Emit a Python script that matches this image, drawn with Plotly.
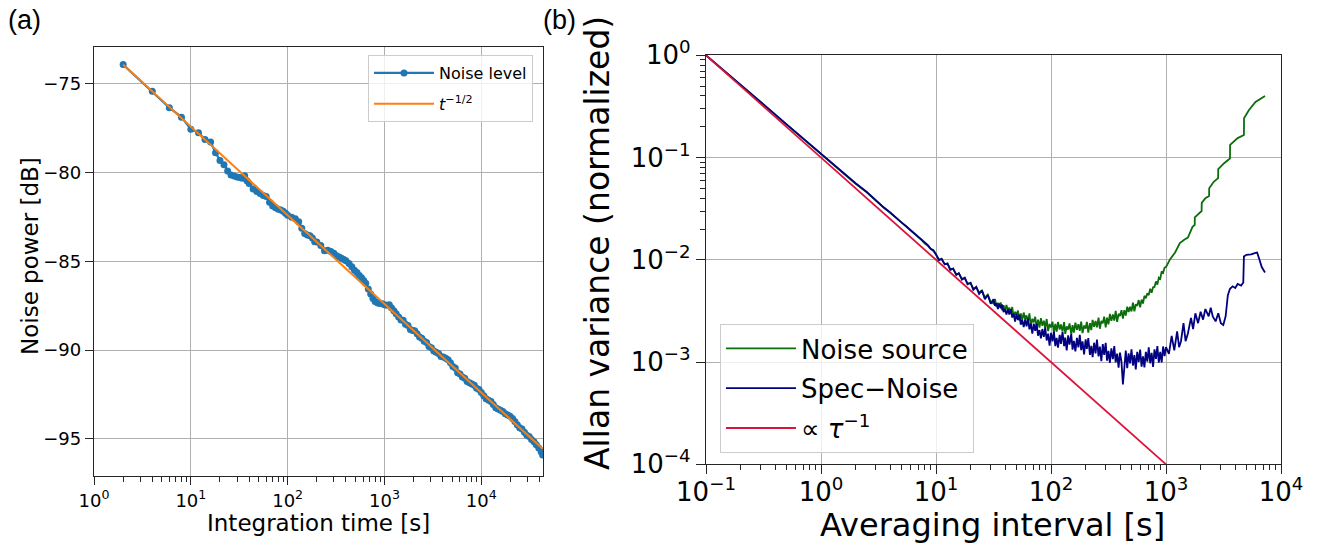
import plotly.graph_objects as go

# ---------------- panel (a) data ----------------
t_noise = [2, 4, 6, 8, 10, 12, 14, 16, 18, 20, 22, 24, 26, 28, 30, 32, 34, 36, 38, 40,
           44, 48, 52, 56, 60, 65, 70, 75, 80, 85, 90, 95, 100, 110, 120, 130, 140, 150,
           160, 170, 180, 190, 200, 220, 240, 260, 280, 300, 320, 340, 360, 380, 400,
           430, 460, 490, 520, 550, 580, 610, 640, 680, 720, 760, 800, 850, 900, 950,
           1000, 1060, 1120, 1180, 1250, 1320, 1400, 1480, 1560, 1650, 1750, 1850, 1950,
           2050, 2170, 2300, 2430, 2570, 2720, 2880, 3050, 3230, 3420, 3620, 3830, 4050,
           4290, 4540, 4800, 5080, 5380, 5690, 6020, 6370, 6740, 7130, 7550, 7990, 8460,
           8950, 9470, 10000, 10600, 11200, 11900, 12600, 13300, 14100, 14900, 15800,
           16700, 17700, 18700, 19800, 21000, 22200, 23500, 24900, 26300, 27900, 29500,
           31200, 33000, 35000, 37000, 39200, 41500, 43000]
noise_db = [-73.91, -75.41, -76.34, -76.87, -77.55, -77.75, -78.13, -78.27, -78.88, -79.31,
            -79.56, -79.90, -80.13, -80.19, -80.24, -80.28, -80.31, -80.18, -80.45, -80.61,
            -80.92, -81.06, -81.18, -81.29, -81.34, -81.67, -81.88, -81.98, -82.07, -82.10,
            -82.17, -82.29, -82.40, -82.51, -82.60, -82.77, -83.13, -83.43, -83.52, -83.55,
            -83.68, -83.89, -83.91, -84.11, -84.40, -84.38, -84.44, -84.54, -84.68, -84.76,
            -84.83, -84.90, -84.96, -85.12, -85.31, -85.50, -85.63, -85.80, -85.92, -86.08,
            -86.23, -86.56, -86.84, -87.10, -87.27, -87.35, -87.37, -87.39, -87.45, -87.48,
            -87.45, -87.61, -87.79, -87.95, -88.13, -88.30, -88.32, -88.54, -88.62, -88.84,
            -88.90, -88.91, -89.08, -89.26, -89.33, -89.50, -89.57, -89.80, -89.87, -90.05,
            -90.12, -90.19, -90.37, -90.39, -90.46, -90.54, -90.71, -90.93, -91.01, -91.28,
            -91.35, -91.52, -91.59, -91.77, -91.84, -91.91, -91.99, -92.16, -92.23, -92.40,
            -92.58, -92.75, -92.83, -92.90, -93.07, -93.25, -93.32, -93.39, -93.46, -93.59,
            -93.66, -93.73, -93.86, -94.03, -94.21, -94.38, -94.45, -94.63, -94.80, -94.87,
            -95.04, -95.17, -95.34, -95.52, -95.74, -95.92]
t_fit = [2, 43000]
fit_db = [-73.91, -95.57]

# ---------------- panel (b) data ----------------
tau_early = [0.1, 0.2, 0.3, 0.5, 0.7, 1.0, 1.5, 2.0, 2.5, 3.0, 3.5, 4.0, 4.5, 5.0, 5.5,
             6.0, 6.5, 7.0, 7.5, 8.0, 8.5, 9.0, 9.5]
spec_early = [1.0, 0.52, 0.348, 0.212, 0.153, 0.109, 0.074, 0.056, 0.046, 0.038, 0.0326,
              0.029, 0.0256, 0.0232, 0.0213, 0.0195, 0.0182, 0.0167, 0.0158, 0.0145,
              0.0139, 0.0128, 0.0124]
src_early = [1.0, 0.52, 0.347, 0.211, 0.152, 0.108, 0.0735, 0.0555, 0.0458, 0.0378,
             0.0325, 0.0288, 0.0255, 0.0230, 0.0212, 0.0194, 0.0180, 0.0166, 0.0156,
             0.0144, 0.0137, 0.0127, 0.0122]

# noisy middle part, values read as decades (log10 of the Allan variance)
tau_mid = [10, 10.6, 11.2, 11.9, 12.6, 13.3, 14.1, 15.0, 15.8, 16.8, 17.8, 18.8, 20.0,
           21.1, 22.4, 23.7, 25.1, 26.6, 28.2, 29.9,
           31.6, 32.6, 33.5, 34.5, 35.5, 36.5, 37.6, 38.7, 39.8, 41.0,
           42.2, 43.4, 44.7, 46.0, 47.3, 48.7, 50.1, 51.6, 53.1, 54.6,
           56.2, 57.9, 59.6, 61.3, 63.1, 64.9, 66.8, 68.8, 70.8, 72.9,
           75.0, 77.1, 79.4, 81.7, 84.1, 86.6, 89.1, 91.7, 94.4, 97.2,
           100, 103, 106, 109, 112, 115, 119, 122, 126, 130,
           133, 137, 141, 145, 150, 154, 158, 163, 168, 173,
           178, 183, 188, 194, 200, 205, 211, 218, 224, 230,
           237, 244, 251, 259, 266, 274, 282, 290, 299, 307,
           316, 325, 335, 345, 355, 365, 376, 387, 398, 410,
           422, 434, 447, 460, 473, 487, 501, 516, 531, 546,
           562, 579, 596, 613, 631, 649, 668, 688, 708, 729,
           750, 772, 794, 818, 841, 866, 891, 917, 944, 972]
spec_mid_log = [-1.945, -2.005, -1.99, -2.045, -2.035, -2.10, -2.085, -2.15, -2.13, -2.195,
                -2.175, -2.24, -2.225, -2.295, -2.265, -2.335, -2.30, -2.385, -2.345, -2.43,
                -2.385, -2.450, -2.424, -2.482, -2.429, -2.475, -2.439, -2.511, -2.482, -2.536,
                -2.484, -2.535, -2.483, -2.565, -2.527, -2.604, -2.530, -2.589, -2.536, -2.634,
                -2.589, -2.659, -2.583, -2.650, -2.575, -2.680, -2.626, -2.722, -2.624, -2.695,
                -2.626, -2.743, -2.687, -2.769, -2.677, -2.754, -2.662, -2.789, -2.723, -2.839,
                -2.714, -2.797, -2.702, -2.844, -2.764, -2.858, -2.735, -2.822, -2.705, -2.845,
                -2.761, -2.885, -2.739, -2.829, -2.726, -2.879, -2.792, -2.895, -2.764, -2.857,
                -2.735, -2.883, -2.797, -2.926, -2.777, -2.872, -2.766, -2.930, -2.841, -2.951,
                -2.811, -2.915, -2.780, -2.944, -2.848, -2.991, -2.825, -2.929, -2.813, -2.986,
                -2.890, -3.007, -2.866, -2.971, -2.845, -3.004, -2.918, -3.054, -2.907, -2.998,
                -3.220, -3.047, -2.888, -3.059, -2.916, -3.014, -2.875, -3.034, -2.933, -3.071,
                -2.900, -2.999, -2.878, -3.046, -2.945, -3.052, -2.900, -2.997, -2.855, -3.012,
                -2.910, -3.047, -2.875, -2.969, -2.843, -3.006, -2.900, -3.004, -2.848, -2.941]
src_mid_log = [-1.95, -1.995, -1.995, -2.04, -2.04, -2.09, -2.09, -2.14, -2.135, -2.185,
               -2.18, -2.23, -2.23, -2.28, -2.27, -2.32, -2.30, -2.37, -2.34, -2.41,
               -2.428, -2.383, -2.457, -2.422, -2.447, -2.418, -2.493, -2.444, -2.498, -2.441,
               -2.498, -2.467, -2.523, -2.462, -2.557, -2.509, -2.540, -2.496, -2.593, -2.524,
               -2.590, -2.516, -2.583, -2.544, -2.610, -2.525, -2.644, -2.577, -2.612, -2.557,
               -2.670, -2.585, -2.662, -2.570, -2.646, -2.595, -2.665, -2.579, -2.697, -2.628,
               -2.662, -2.605, -2.715, -2.628, -2.702, -2.609, -2.683, -2.632, -2.700, -2.610,
               -2.724, -2.652, -2.682, -2.622, -2.730, -2.640, -2.712, -2.615, -2.686, -2.630,
               -2.695, -2.604, -2.717, -2.643, -2.672, -2.608, -2.713, -2.619, -2.687, -2.587,
               -2.656, -2.598, -2.660, -2.565, -2.674, -2.597, -2.622, -2.557, -2.660, -2.565,
               -2.632, -2.530, -2.596, -2.535, -2.595, -2.499, -2.607, -2.528, -2.550, -2.493,
               -2.575, -2.493, -2.545, -2.458, -2.510, -2.458, -2.505, -2.420, -2.505, -2.435,
               -2.450, -2.394, -2.465, -2.390, -2.428, -2.352, -2.376, -2.327, -2.345, -2.283,
               -2.322, -2.269, -2.266, -2.212, -2.243, -2.174, -2.186, -2.114, -2.127, -2.076]

tau_src_late = [1000, 1090, 1200, 1320, 1450, 1550, 1700, 1778, 1780, 1950, 2040, 2045,
                2200, 2370, 2375, 2600, 2840, 2845, 3200, 3600, 3610, 4200, 4760, 4770,
                5250, 6000, 6760, 7260]
src_late = [0.0085, 0.0102, 0.0118, 0.0146, 0.0158, 0.0165, 0.0210, 0.022, 0.026, 0.029,
            0.030, 0.036, 0.040, 0.042, 0.050, 0.058, 0.063, 0.077, 0.088, 0.098, 0.133,
            0.155, 0.166, 0.242, 0.29, 0.35, 0.385, 0.40]

tau_spec_late = [1000, 1060, 1120, 1180, 1250, 1300, 1350, 1420, 1480, 1550, 1650, 1720,
                 1800, 1900, 2000, 2100, 2200, 2350, 2450, 2550, 2700, 2850, 3000, 3150,
                 3300, 3450, 3600, 3800, 4000, 4200, 4500, 4700, 4760, 5000, 5500, 6000,
                 6200, 6500, 6800, 7260]
spec_late = [0.0014, 0.0012, 0.0018, 0.0013, 0.0020, 0.0014, 0.0016, 0.0024, 0.0016,
             0.0019, 0.0027, 0.0021, 0.0030, 0.0024, 0.0031, 0.0026, 0.0033, 0.0028,
             0.0034, 0.0028, 0.0025, 0.0030, 0.0024, 0.0023, 0.0028, 0.0045, 0.0052,
             0.0055, 0.0053, 0.0058, 0.0056, 0.0060, 0.0108, 0.0112, 0.0113, 0.0117,
             0.0118, 0.0100, 0.0085, 0.0075]

tau_ref = [0.1, 1000]
ref_line = [1.0, 1e-4]

spec_mid = [10 ** v for v in spec_mid_log]
src_mid = [10 ** v for v in src_mid_log]

# ---------------- figure ----------------
FONT = "DejaVu Sans"
AXC = "#262626"
GRIDC = "#b0b0b0"
W, H = 1318, 546

fig = go.Figure()

fig.add_trace(go.Scatter(x=t_noise, y=noise_db, mode="lines+markers", name="Noise level",
                         line=dict(color="#1f77b4", width=2.2),
                         marker=dict(color="#1f77b4", size=7),
                         xaxis="x", yaxis="y", legend="legend", legendgroup="n"))
fig.add_trace(go.Scatter(x=t_fit, y=fit_db, mode="lines", name="<i>t</i><sup>−1/2</sup>",
                         line=dict(color="#ff7f0e", width=2),
                         xaxis="x", yaxis="y", legend="legend", legendgroup="f"))

fig.add_trace(go.Scatter(x=tau_early + tau_mid + tau_src_late, y=src_early + src_mid + src_late,
                         mode="lines", name="Noise source",
                         line=dict(color="#0b6e0b", width=1.8),
                         xaxis="x2", yaxis="y2", legend="legend2", legendgroup="a"))
fig.add_trace(go.Scatter(x=tau_early + tau_mid + tau_spec_late, y=spec_early + spec_mid + spec_late,
                         mode="lines", name="Spec−Noise",
                         line=dict(color="#000080", width=1.8),
                         xaxis="x2", yaxis="y2", legend="legend2", legendgroup="b"))
fig.add_trace(go.Scatter(x=tau_ref, y=ref_line, mode="lines", name="∝ <i>τ</i><sup>−1</sup>",
                         line=dict(color="#dc143c", width=1.8),
                         xaxis="x2", yaxis="y2", legend="legend2", legendgroup="c"))

# empty traces so that the minor-tick overlay axes get drawn
for xa, ya in [("x3", "y"), ("x4", "y2"), ("x2", "y4")]:
    fig.add_trace(go.Scatter(x=[], y=[], xaxis=xa, yaxis=ya, showlegend=False,
                             hoverinfo="skip"))

minor_vals = [m * 10 ** e for e in range(-2, 6) for m in range(2, 10)]


def sup(e):
    return "10<sup>" + (str(e) if e >= 0 else "−" + str(-e)) + "</sup>"


common = dict(showline=True, linecolor=AXC, linewidth=1.3, mirror=True,
              showgrid=True, gridcolor=GRIDC, gridwidth=1, zeroline=False,
              ticks="outside", tickcolor=AXC, tickwidth=1.2, automargin=False)
minor_ax = dict(tickmode="array", tickvals=minor_vals, showticklabels=False,
                ticks="outside", ticklen=5, tickcolor=AXC, tickwidth=1.1,
                showgrid=False, showline=False, zeroline=False, automargin=False)

xa_dom = [94 / W, 543 / W]
ya_dom = [(H - 476) / H, (H - 46.7) / H]
xb_dom = [706 / W, 1281 / W]
yb_dom = [(H - 464.3) / H, (H - 55.3) / H]

fig.update_layout(
    width=W, height=H,
    margin=dict(l=0, r=0, t=0, b=0, autoexpand=False),
    paper_bgcolor="white", plot_bgcolor="white",
    font=dict(family=FONT, color="black"),
    showlegend=True,
    xaxis=dict(domain=xa_dom, type="log", range=[0, 4.637],
               tickmode="array", tickvals=[1, 10, 100, 1000, 10000],
               ticktext=[sup(e) for e in range(0, 5)], ticklen=8,
               tickfont=dict(size=18, family=FONT), anchor="y", **common),
    yaxis=dict(domain=ya_dom, range=[-97.1, -72.9],
               tickmode="array", tickvals=[-95, -90, -85, -80, -75],
               ticktext=["−95", "−90", "−85", "−80", "−75"], ticklen=8,
               tickfont=dict(size=18, family=FONT), anchor="x", **common),
    xaxis3=dict(domain=xa_dom, type="log", range=[0, 4.637], overlaying="x",
                anchor="y", side="bottom", **minor_ax),
    xaxis2=dict(domain=xb_dom, type="log", range=[-1, 4],
                tickmode="array", tickvals=[0.1, 1, 10, 100, 1000, 10000],
                ticktext=[sup(e) for e in range(-1, 5)], ticklen=9,
                tickfont=dict(size=26, family=FONT), ticklabelstandoff=-5,
                anchor="y2", **common),
    yaxis2=dict(domain=yb_dom, type="log", range=[-4, 0],
                tickmode="array", tickvals=[1e-4, 1e-3, 1e-2, 1e-1, 1],
                ticktext=[sup(e) for e in range(-4, 1)], ticklen=9,
                tickfont=dict(size=26, family=FONT),
                anchor="x2", **common),
    xaxis4=dict(domain=xb_dom, type="log", range=[-1, 4], overlaying="x2",
                anchor="y2", side="bottom", **minor_ax),
    yaxis4=dict(domain=yb_dom, type="log", range=[-4, 0], overlaying="y2",
                anchor="x2", side="left", **minor_ax),
    legend=dict(x=533 / W, xanchor="right", y=(H - 55) / H, yanchor="top",
                bgcolor="rgba(255,255,255,0.8)", bordercolor="#cccccc", borderwidth=1,
                font=dict(size=16, family=FONT), tracegroupgap=7, itemwidth=60),
    legend2=dict(x=720 / W, xanchor="left", y=(H - 453) / H, yanchor="bottom",
                 bgcolor="rgba(255,255,255,0.8)", bordercolor="#cccccc", borderwidth=1,
                 font=dict(size=26, family=FONT), tracegroupgap=3, itemwidth=70),
    annotations=[
        dict(text="(a)", x=6 / W, y=1 - 3 / H, xref="paper", yref="paper",
             xanchor="left", yanchor="top", showarrow=False,
             font=dict(size=27, family="Liberation Sans")),
        dict(text="(b)", x=541 / W, y=1 - 3 / H, xref="paper", yref="paper",
             xanchor="left", yanchor="top", showarrow=False,
             font=dict(size=27, family="Liberation Sans")),
        dict(text="Integration time [s]", x=318 / W, y=1 - 523 / H, xref="paper",
             yref="paper", xanchor="center", yanchor="middle", showarrow=False,
             font=dict(size=23, family=FONT)),
        dict(text="Noise power [dB]", x=30 / W, y=1 - 256 / H, xref="paper",
             yref="paper", xanchor="center", yanchor="middle", showarrow=False,
             textangle=-90, font=dict(size=23, family=FONT)),
        dict(text="Averaging interval [s]", x=992 / W, y=1 - 525 / H, xref="paper",
             yref="paper", xanchor="center", yanchor="middle", showarrow=False,
             font=dict(size=32, family=FONT)),
        dict(text="Allan variance (normalized)", x=598 / W, y=1 - 243 / H,
             xref="paper", yref="paper", xanchor="center", yanchor="middle",
             showarrow=False, textangle=-90, font=dict(size=33, family=FONT)),
    ],
)

fig.write_html("out.html", post_script="document.body.style.margin='0px';",
               config={"displayModeBar": False})
